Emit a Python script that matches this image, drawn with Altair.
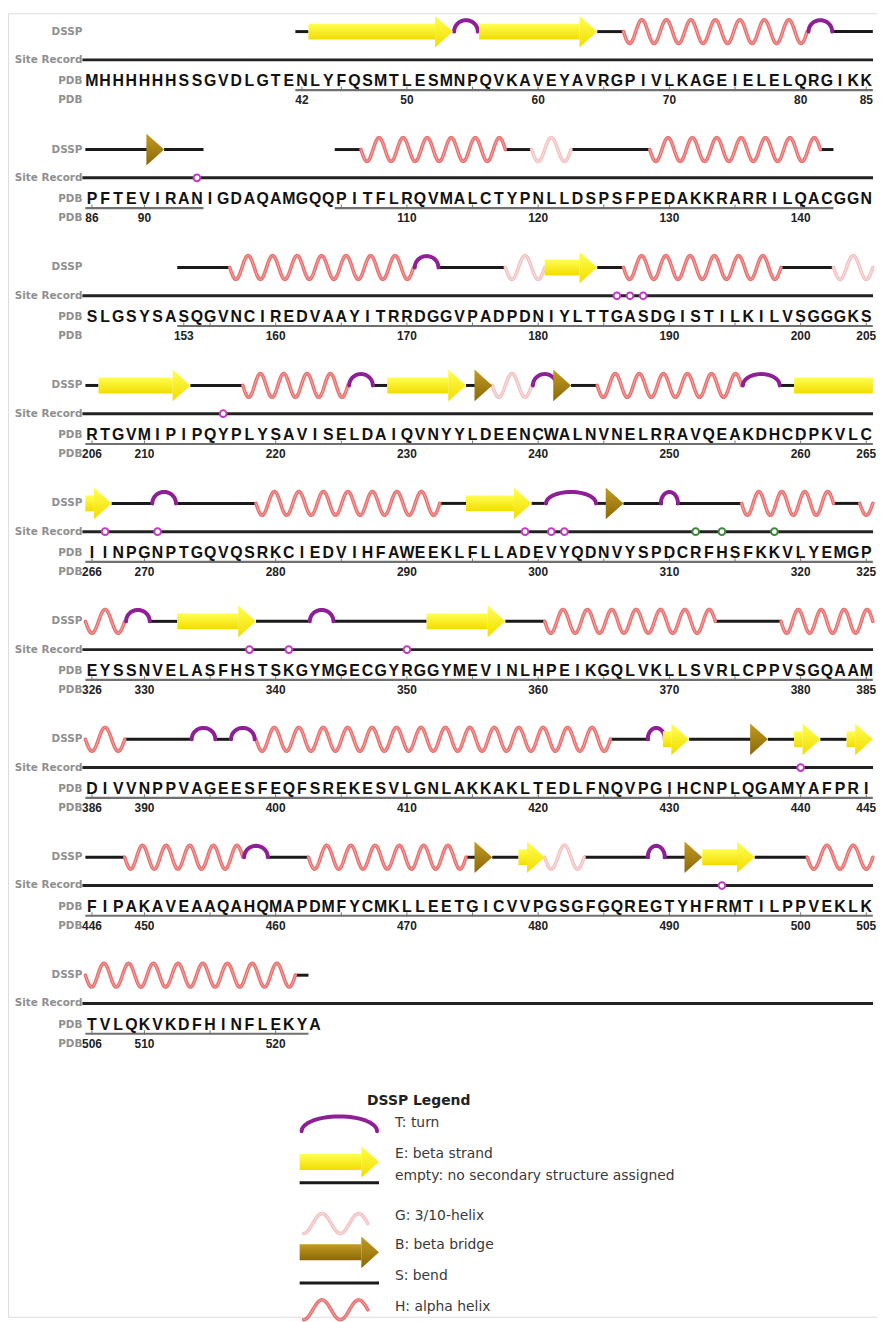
import math
import altair as alt
import pandas as pd

# ---------------- data ----------------
SEQUENCE_ROWS = [
    "MHHHHHHSSGVDLGTENLYFQSMTLESMNPQVKAVEYAVRGPIVLKAGEIELELQRGIKK",
    "PFTEVIRANIGDAQAMGQQPITFLRQVMALCTYPNLLDSPSFPEDAKKRARRILQACGGN",
    "SLGSYSASQGVNCIREDVAAYITRRDGGVPADPDNIYLTTGASDGISTILKILVSGGGKS",
    "RTGVMIPIPQYPLYSAVISELDAIQVNYYLDEENCWALNVNELRRAVQEAKDHCDPKVLC",
    "IINPGNPTGQVQSRKCIEDVIHFAWEEKLFLLADEVYQDNVYSPDCRFHSFKKVLYEMGP",
    "EYSSNVELASFHSTSKGYMGECGYRGGYMEVINLHPEIKGQLVKLLSVRLCPPVSGQAAM",
    "DIVVNPPVAGEESFEQFSREKESVLGNLAKKAKLTEDLFNQVPGIHCNPLQGAMYAFPRI",
    "FIPAKAVEAAQAHQMAPDMFYCMKLLEETGICVVPGSGFGQREGTYHFRMTILPPVEKLK",
    "TVLQKVKDFHINFLEKYA",
]
FIRST_RESIDUE = 26
ROW_LENGTH = 60

# residues with coordinates in the PDB entry (underlined ranges)
OBSERVED_START = [42, 105, 153]
OBSERVED_END = [94, 142, 522]

# DSSP segments: first residue, last residue, code ('-' = no structure)
DSSP_START = [42, 43, 54, 56, 65, 67, 81, 83, 91, 92,
              105, 107, 118, 120, 123, 129, 142,
              153, 157, 171, 173, 178, 181, 185, 187, 199, 203,
              206, 207, 214, 218, 226, 228, 229, 235, 236, 237, 240, 242, 243, 245, 256, 259, 260,
              268, 271, 273, 279, 293, 295, 300, 301, 305, 306, 307, 310, 311, 316, 323, 325,
              329, 331, 333, 339, 343, 345, 352, 358, 361, 374, 379,
              389, 394, 396, 397, 399, 426, 429, 430, 432, 437, 438, 440, 442, 444,
              446, 449, 458, 460, 463, 475, 476, 477, 479, 481, 484, 489, 490, 492, 493, 497, 501,
              522]
DSSP_END = [42, 53, 55, 64, 66, 80, 82, 90, 91, 94,
            106, 117, 119, 122, 128, 141, 142,
            156, 170, 172, 177, 180, 184, 186, 198, 202, 205,
            206, 213, 217, 225, 227, 228, 234, 235, 236, 239, 241, 242, 244, 255, 258, 259, 267,
            270, 272, 278, 292, 294, 299, 300, 304, 305, 306, 309, 310, 315, 322, 324, 328,
            330, 332, 338, 342, 344, 351, 357, 360, 373, 378, 388,
            393, 395, 396, 398, 425, 428, 429, 431, 436, 437, 439, 441, 443, 445,
            448, 457, 459, 462, 474, 475, 476, 478, 480, 483, 488, 489, 491, 492, 496, 500, 521,
            522]
DSSP_CODE = ["-", "E", "T", "E", "-", "H", "T", "-", "B", "-",
             "-", "H", "-", "G", "-", "H", "-",
             "-", "H", "T", "-", "G", "E", "-", "H", "-", "G",
             "-", "E", "-", "H", "T", "-", "E", "-", "B", "G", "T", "B", "-", "H", "T", "-", "E",
             "-", "T", "-", "H", "-", "E", "-", "T", "-", "B", "-", "T", "-", "H", "-", "H",
             "T", "-", "E", "-", "T", "-", "E", "-", "H", "-", "H",
             "-", "T", "-", "T", "H", "-", "T", "E", "-", "B", "-", "E", "-", "E",
             "-", "H", "T", "-", "H", "-", "B", "-", "E", "G", "-", "T", "-", "B", "E", "-", "H",
             "-"]

SITE_MAGENTA = [94, 186, 187, 188, 216, 267, 271, 299, 301, 302, 338, 341, 350, 440, 494]
SITE_GREEN = [312, 314, 318]

TICK_LABELS = [42, 50, 60, 70, 80, 85,
               86, 90, 110, 120, 130, 140,
               153, 160, 170, 180, 190, 200, 205,
               206, 210, 220, 230, 240, 250, 260, 265,
               266, 270, 280, 290, 300, 310, 320, 325,
               326, 330, 340, 350, 360, 370, 380, 385,
               386, 390, 400, 410, 420, 430, 440, 445,
               446, 450, 460, 470, 480, 490, 500, 505,
               506, 510, 520]

LEGEND_TITLE = "DSSP Legend"
LEGEND_CODES = ["T", "E", "-", "G", "B", "S", "H"]
LEGEND_LABELS = ["T: turn", "E: beta strand", "empty: no secondary structure assigned",
                 "G: 3/10-helix", "B: beta bridge", "S: bend", "H: alpha helix"]

# ---------------- layout ----------------
W, H = 876, 1314
PAGE = 8
X_LEFT = 86.0      # page x of residue column 0
RES_PX = 13.23     # width of one residue
ROW_STEP = 118.9
DSSP_Y0 = 26.5
OFFSETS = {"dssp": 0.0, "site": 28.5, "seq": 50.0, "axis": 59.0, "num": 69.0}

LEG_TEXT_Y = {"title": 1105, "T": 1127, "E": 1158, "-": 1180, "G": 1220, "B": 1250, "S": 1281, "H": 1312}
LEG_SYM_Y = {"T": 1135, "E": 1166, "-": 1187, "G": 1228, "B": 1257, "S": 1288, "H": 1315}

HELIX_PERIOD = 1.85
HELIX_AMP = 12.0

SEQ_FONT = "Liberation Sans, Arial, sans-serif"
LABEL_FONT = "DejaVu Sans, sans-serif"


def ux(px):
    return (px - X_LEFT) / RES_PX


def vy(py):
    return py - PAGE


def ty(row, track):
    return vy(DSSP_Y0 + row * ROW_STEP + OFFSETS[track])


def locate(res):
    k = res - FIRST_RESIDUE
    return k // ROW_LENGTH, k % ROW_LENGTH


def pieces(start, end):
    res = start
    while res <= end:
        row, c0 = locate(res)
        stop = min(end, FIRST_RESIDUE + (row + 1) * ROW_LENGTH - 1)
        yield row, c0, c0 + (stop - res) + 1, stop == end
        res = stop + 1


def wave(x0, x1, yc, g, amp, period, phase=0.0, fit=True):
    length = x1 - x0
    if fit:
        n_half = max(1, round(2 * length / period))
        period = 2 * length / n_half
    n = max(12, int(length * 18))
    out = []
    for i in range(n + 1):
        t = length * i / n
        out.append({"x": x0 + t, "y": yc + amp * math.sin(2 * math.pi * t / period + phase),
                    "g": g, "o": i})
    return out


def arch(xm, half_w, yb, h, g, n=28):
    out = []
    for i in range(n + 1):
        a = math.pi * i / n
        out.append({"x": xm - half_w * math.cos(a), "y": yb - h * math.sin(a), "g": g, "o": i})
    return out


def arrow(x0, x1, yc, g, head, bodies, heads, body_half=8.0, head_half=16.0, head_len=1.35):
    if head:
        xh = x1 - head_len
        if xh > x0:
            bodies.append({"x": x0, "x2": xh, "y": yc - body_half, "y2": yc + body_half})
        heads.append({"x": xh, "y": yc - head_half, "y2": yc + head_half, "g": g})
        heads.append({"x": x1, "y": yc, "y2": yc, "g": g})
    else:
        bodies.append({"x": x0, "x2": x1, "y": yc - body_half, "y2": yc + body_half})


# ---------------- geometry from data ----------------
coil, helix, g310, turns = [], [], [], []
e_body, e_head, b_body, b_head = [], [], [], []
gid = 0
for s, e, code in zip(DSSP_START, DSSP_END, DSSP_CODE):
    for row, c0, c1, is_last in pieces(s, e):
        gid += 1
        yc = ty(row, "dssp")
        if code in "-S":
            coil.append({"x": c0, "x2": c1, "y": yc})
        elif code in "HG":
            (helix if code == "H" else g310).extend(wave(c0, c1, yc, gid, HELIX_AMP, HELIX_PERIOD))
        elif code == "T":
            n = c1 - c0
            turns.extend(arch((c0 + c1) / 2, max(n - 0.2, 1.3) / 2, yc, 11.5, gid))
        elif code == "E":
            arrow(c0, c1, yc, gid, is_last, e_body, e_head)
        elif code == "B":
            arrow(c0, c1, yc, gid, is_last, b_body, b_head)

# legend symbols
lx0, lx1 = ux(302), ux(382)
for code in LEGEND_CODES:
    gid += 1
    yc = vy(LEG_SYM_Y[code])
    if code in "-S":
        coil.append({"x": lx0, "x2": lx1, "y": yc})
    elif code in "HG":
        per = ux(339) - ux(302)
        (helix if code == "H" else g310).extend(
            wave(lx0 + 0.3, lx0 + 0.3 + 1.75 * per, yc, gid, 10.0, per, phase=math.pi / 2, fit=False))
    elif code == "T":
        turns.extend(arch((lx0 + lx1) / 2, (lx1 - lx0) / 2 - 0.15, yc, 15.0, gid))
    elif code == "E":
        arrow(lx0, lx1, yc, gid, True, e_body, e_head, 8.0, 16.0, 1.35)
    elif code == "B":
        arrow(lx0, lx1, yc, gid, True, b_body, b_head, 8.0, 16.0, 1.35)

site_lines = [{"x": ux(83), "x2": ux(880), "y": ty(r, "site")} for r in range(len(SEQUENCE_ROWS))]
circles = []
for res in SITE_MAGENTA:
    r, c = locate(res)
    circles.append({"x": c + 0.5, "y": ty(r, "site"), "k": "m"})
for res in SITE_GREEN:
    r, c = locate(res)
    circles.append({"x": c + 0.5, "y": ty(r, "site"), "k": "g"})

letters = []
for r, seq in enumerate(SEQUENCE_ROWS):
    for c, ch in enumerate(seq):
        letters.append({"x": c + 0.5, "y": ty(r, "seq"), "t": ch})

underline, ticks = [], []
for s, e in zip(OBSERVED_START, OBSERVED_END):
    for row, c0, c1, _ in pieces(s, e):
        underline.append({"x": c0, "x2": c1, "y": ty(row, "axis")})
    for res in range(s, e + 1):
        if res % 5 == 0 or res in TICK_LABELS:
            r, c = locate(res)
            ticks.append({"x": c + 0.5, "y": ty(r, "axis") - 3.5, "y2": ty(r, "axis") + 1})

numbers = []
for res in TICK_LABELS:
    r, c = locate(res)
    numbers.append({"x": c + 0.5, "y": ty(r, "num"), "t": str(res)})

track_labels = []
for r in range(len(SEQUENCE_ROWS)):
    for track, name in (("dssp", "DSSP"), ("site", "Site Record"), ("seq", "PDB"), ("num", "PDB")):
        track_labels.append({"x": ux(83), "y": ty(r, track), "t": name})

legend_text = [{"x": ux(398), "y": vy(LEG_TEXT_Y[code]), "t": lab}
               for code, lab in zip(LEGEND_CODES, LEGEND_LABELS)]
legend_title = [{"x": ux(370), "y": vy(LEG_TEXT_Y["title"]), "t": LEGEND_TITLE}]

# ---------------- chart ----------------
XS = alt.Scale(domain=[ux(PAGE), ux(PAGE + W)], nice=False, zero=False)
YS = alt.Scale(domain=[0, H], reverse=True, nice=False, zero=False)


def ex(f="x"):
    return alt.X(f"{f}:Q", scale=XS, axis=None)


def ey(f="y"):
    return alt.Y(f"{f}:Q", scale=YS, axis=None, stack=False)


def grad(top, bottom):
    return alt.Gradient(gradient="linear",
                        stops=[alt.GradientStop(color=top, offset=0),
                               alt.GradientStop(color=bottom, offset=1)],
                        x1=0, x2=0, y1=0, y2=1)


def hrule(rows, color, width):
    return alt.Chart(pd.DataFrame(rows)).mark_rule(color=color, strokeWidth=width).encode(
        x=ex(), x2="x2:Q", y=ey())


def path(rows, color, width):
    return alt.Chart(pd.DataFrame(rows)).mark_line(
        color=color, strokeWidth=width, strokeCap="round", strokeJoin="round").encode(
        x=ex(), y=ey(), detail="g:N", order=alt.Order("o:Q"))


def rects(rows, fill):
    return alt.Chart(pd.DataFrame(rows)).mark_rect(color=fill).encode(
        x=ex(), x2="x2:Q", y=ey(), y2="y2:Q")


def heads(rows, fill):
    return alt.Chart(pd.DataFrame(rows)).mark_area(color=fill, interpolate="linear").encode(
        x=ex(), y=ey(), y2="y2:Q", detail="g:N")


def texts(rows, **kw):
    return alt.Chart(pd.DataFrame(rows)).mark_text(baseline="middle", **kw).encode(
        x=ex(), y=ey(), text="t:N")


YELLOW = grad("#FFFF50", "#F2DC00")
BROWN = grad("#C39B22", "#8A6808")

layers = [
    hrule(site_lines, "#222222", 3),
    hrule(underline, "#707070", 2.2),
    alt.Chart(pd.DataFrame(ticks)).mark_rule(color="#707070", strokeWidth=1).encode(
        x=ex(), y=ey(), y2="y2:Q"),
    hrule(coil, "#1a1a1a", 3),
    path(helix, "#E8716F", 3.6),
    path(helix, "#F3A7A6", 1.0),
    path(g310, "#F3C2C2", 3.6),
    path(g310, "#FBE3E3", 1.0),
    path(turns, "#8E1F96", 4),
    rects(e_body, YELLOW),
    heads(e_head, YELLOW),
    rects(b_body, BROWN),
    heads(b_head, BROWN),
    alt.Chart(pd.DataFrame(circles)).mark_point(
        shape="circle", filled=True, fill="white", strokeWidth=2, size=46, opacity=1).encode(
        x=ex(), y=ey(),
        stroke=alt.Stroke("k:N", scale=alt.Scale(domain=["m", "g"], range=["#C23BC2", "#3D8A3D"]),
                          legend=None)),
    texts(letters, align="center", font=SEQ_FONT, fontSize=16, fontWeight="bold", color="#111111"),
    texts(numbers, align="center", font=SEQ_FONT, fontSize=12, fontWeight="bold", color="#222222"),
    texts(track_labels, align="right", font=LABEL_FONT, fontSize=10.5, fontWeight="bold", color="#8f8f8f"),
    texts(legend_title, align="left", font=LABEL_FONT, fontSize=14, fontWeight="bold", color="#222222"),
    texts(legend_text, align="left", font=LABEL_FONT, fontSize=14, color="#3a3a3a"),
]

chart = alt.layer(*layers).properties(
    width=W, height=H, autosize=alt.AutoSizeParams(type="none"), padding=0
).configure_view(stroke=None, strokeWidth=0).configure(background="white")

chart.save("out.html", embed_options={"renderer": "svg", "actions": False})
